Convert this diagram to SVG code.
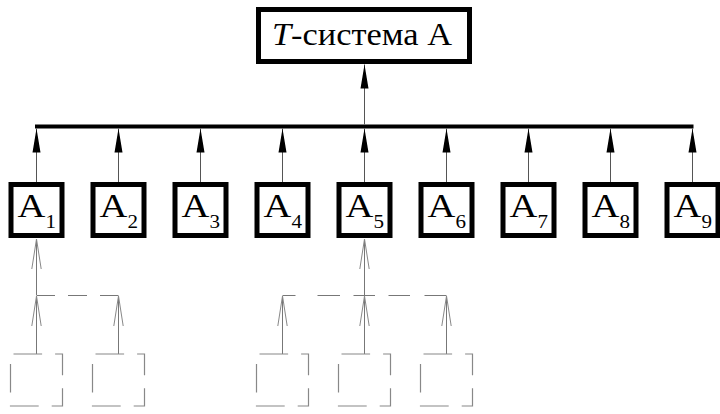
<svg xmlns="http://www.w3.org/2000/svg" width="720" height="414" viewBox="0 0 720 414">
<defs>
<style>
.box{fill:#fff;stroke:#000;stroke-width:5}
.lbl{font-family:"Liberation Serif","Times New Roman","DejaVu Serif",serif;font-size:33px;fill:#000}
.ttl{font-family:"Liberation Serif","Times New Roman","DejaVu Serif",serif;font-size:31px;fill:#000}
.sub{font-size:18px}
.conn{stroke:#555;stroke-width:1;fill:none}
.bus{stroke:#000;stroke-width:4;fill:none}
.dash{stroke:#777;stroke-width:1;fill:none}
.dbox{stroke:#888;stroke-width:1.2;fill:none;stroke-dasharray:28.6 13;stroke-dashoffset:38.6}
</style>
<marker id="fa" markerUnits="userSpaceOnUse" orient="auto" overflow="visible" markerWidth="1" markerHeight="1" refX="0" refY="0"><path d="M0,0 L-24,-4 L-24,4 Z" fill="#000"/></marker>
<marker id="oa" markerUnits="userSpaceOnUse" orient="auto" overflow="visible" markerWidth="1" markerHeight="1" refX="0" refY="0"><path d="M-30,-4.7 L0,0 L-30,4.7" fill="none" stroke="#888" stroke-width="1"/></marker>
</defs>
<g id="connectors">
<line class="bus" x1="35" y1="126.5" x2="693.5" y2="126.5"/>
<line class="conn" x1="364.5" y1="124.5" x2="364.5" y2="64.5" marker-end="url(#fa)"/>
<line class="conn" x1="36.5" y1="182" x2="36.5" y2="128.5" marker-end="url(#fa)"/>
<line class="conn" x1="118.5" y1="182" x2="118.5" y2="128.5" marker-end="url(#fa)"/>
<line class="conn" x1="200.5" y1="182" x2="200.5" y2="128.5" marker-end="url(#fa)"/>
<line class="conn" x1="282.5" y1="182" x2="282.5" y2="128.5" marker-end="url(#fa)"/>
<line class="conn" x1="364.5" y1="182" x2="364.5" y2="128.5" marker-end="url(#fa)"/>
<line class="conn" x1="446.5" y1="182" x2="446.5" y2="128.5" marker-end="url(#fa)"/>
<line class="conn" x1="528.5" y1="182" x2="528.5" y2="128.5" marker-end="url(#fa)"/>
<line class="conn" x1="610.5" y1="182" x2="610.5" y2="128.5" marker-end="url(#fa)"/>
<line class="conn" x1="692.5" y1="182" x2="692.5" y2="128.5" marker-end="url(#fa)"/>
<line class="dash" x1="36.5" y1="295" x2="36.5" y2="239" marker-end="url(#oa)"/>
<path class="dash" d="M36.5,295.5 H55 M68,295.5 H87 M100,295.5 H118.5"/>
<line class="dash" x1="36.5" y1="354" x2="36.5" y2="296" marker-end="url(#oa)"/>
<line class="dash" x1="118.5" y1="354" x2="118.5" y2="296" marker-end="url(#oa)"/>
<line class="dash" x1="364.5" y1="295" x2="364.5" y2="239" marker-end="url(#oa)"/>
<path class="dash" d="M282.5,295.5 H295.5 M317.5,295.5 H340 M353.5,295.5 H375 M388.5,295.5 H410 M424.5,295.5 H446.5"/>
<line class="dash" x1="282.5" y1="354" x2="282.5" y2="296" marker-end="url(#oa)"/>
<line class="dash" x1="364.5" y1="354" x2="364.5" y2="296" marker-end="url(#oa)"/>
<line class="dash" x1="446.5" y1="354" x2="446.5" y2="296" marker-end="url(#oa)"/>
</g>
<g id="tsys">
<rect class="box" x="258.5" y="9.5" width="211" height="52"/>
<text class="ttl" x="272" y="45" textLength="180" lengthAdjust="spacingAndGlyphs"><tspan font-style="italic">T</tspan>-система А</text>
</g>
<g id="a1"><rect class="box" x="11" y="184.5" width="51" height="51"/><text class="lbl" transform="translate(17.5,217) scale(1.17,1)">A<tspan class="sub" dy="11">1</tspan></text></g>
<g id="a2"><rect class="box" x="93" y="184.5" width="51" height="51"/><text class="lbl" transform="translate(99.5,217) scale(1.17,1)">A<tspan class="sub" dy="11">2</tspan></text></g>
<g id="a3"><rect class="box" x="175" y="184.5" width="51" height="51"/><text class="lbl" transform="translate(181.5,217) scale(1.17,1)">A<tspan class="sub" dy="11">3</tspan></text></g>
<g id="a4"><rect class="box" x="257" y="184.5" width="51" height="51"/><text class="lbl" transform="translate(263.5,217) scale(1.17,1)">A<tspan class="sub" dy="11">4</tspan></text></g>
<g id="a5"><rect class="box" x="339" y="184.5" width="51" height="51"/><text class="lbl" transform="translate(345.5,217) scale(1.17,1)">A<tspan class="sub" dy="11">5</tspan></text></g>
<g id="a6"><rect class="box" x="421" y="184.5" width="51" height="51"/><text class="lbl" transform="translate(427.5,217) scale(1.17,1)">A<tspan class="sub" dy="11">6</tspan></text></g>
<g id="a7"><rect class="box" x="503" y="184.5" width="51" height="51"/><text class="lbl" transform="translate(509.5,217) scale(1.17,1)">A<tspan class="sub" dy="11">7</tspan></text></g>
<g id="a8"><rect class="box" x="585" y="184.5" width="51" height="51"/><text class="lbl" transform="translate(591.5,217) scale(1.17,1)">A<tspan class="sub" dy="11">8</tspan></text></g>
<g id="a9"><rect class="box" x="667" y="184.5" width="51" height="51"/><text class="lbl" transform="translate(673.5,217) scale(1.17,1)">A<tspan class="sub" dy="11">9</tspan></text></g>
<g id="c11"><rect class="dbox" x="10.5" y="354" width="52" height="52"/></g>
<g id="c12"><rect class="dbox" x="92.5" y="354" width="52" height="52"/></g>
<g id="c51"><rect class="dbox" x="256.5" y="354" width="52" height="52"/></g>
<g id="c52"><rect class="dbox" x="338.5" y="354" width="52" height="52"/></g>
<g id="c53"><rect class="dbox" x="420.5" y="354" width="52" height="52"/></g>
</svg>
